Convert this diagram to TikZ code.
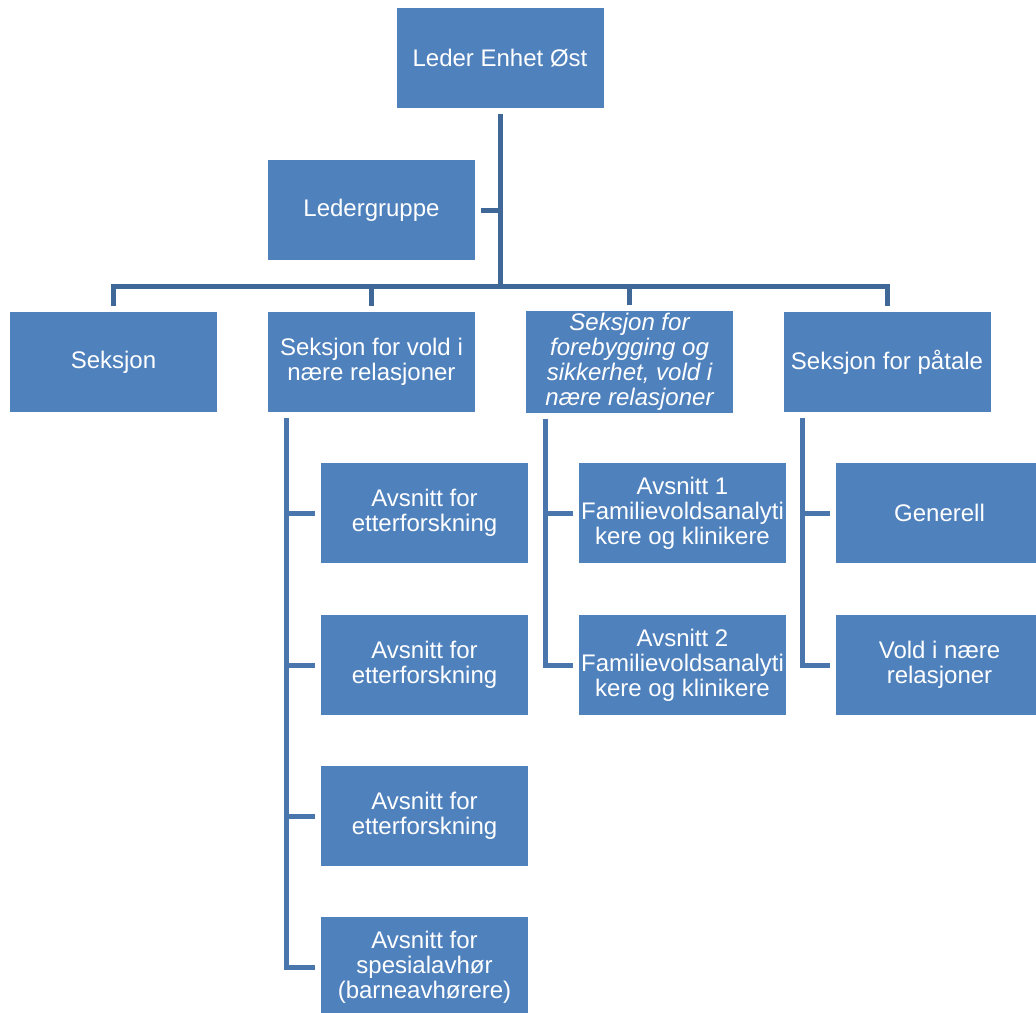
\documentclass[tikz,border=0pt]{standalone}
\usepackage{fontspec}
\setmainfont{Liberation Sans}
\definecolor{boxblue}{HTML}{4F81BD}
\definecolor{lineblue}{HTML}{3F6797}
\definecolor{sideblue}{HTML}{4A76AE}
\tikzset{box:style/.style={fill=boxblue,text=white,align=center,minimum width=103.5pt,minimum height=50pt,inner sep=1pt,outer sep=3pt,font=\fontsize{12}{12.5}\selectfont}}
\tikzset{edge:style/.style={draw=lineblue,line width=2.5pt}}
\tikzset{side:style/.style={draw=sideblue,line width=2.5pt}}
\def\bigfont{\fontsize{12}{12.5}\selectfont}

\begin{document}
\begin{tikzpicture}[x=0.5pt,y=-0.5pt]

	\useasboundingbox (0,0) rectangle (1036,1012);

	\path
		(500,58) coordinate (croot)
		(371.5,210) coordinate (cledergr)
		(500,286) coordinate (cbus)
		(113.5,362) coordinate (csek1)
		(371.5,362) coordinate (csek2)
		(629.5,362) coordinate (csek3)
		(887,362) coordinate (csek4)
		(286,0) coordinate (xvold)
		(545,0) coordinate (xfore)
		(802,0) coordinate (xpaat);

	\path (croot) node[box:style] (root) {Leder Enhet Øst};
	\path (cledergr) node[box:style] (ledergr) {Ledergruppe};

	\path (csek1) node[box:style] (sek1) {Seksjon};
	\path (csek2) node[box:style] (sek2) {Seksjon for vold i\\nære relasjoner};
	\path (csek3) node[box:style,font=\bigfont\itshape] (sek3) {Seksjon for\\forebygging og\\sikkerhet, vold i\\nære relasjoner};
	\path (csek4) node[box:style] (sek4) {Seksjon for påtale};

	\path (424.5,513) node[box:style] (vold1) {Avsnitt for\\etterforskning};
	\path (424.5,665) node[box:style] (vold2) {Avsnitt for\\etterforskning};
	\path (424.5,816) node[box:style] (vold3) {Avsnitt for\\etterforskning};
	\path (424.5,967) node[box:style] (vold4) {Avsnitt for\\spesialavhør\\(barneavhørere)};

	\path (682.5,513) node[box:style] (fore1) {Avsnitt 1\\Familievoldsanalyti\\kere og klinikere};
	\path (682.5,665) node[box:style] (fore2) {Avsnitt 2\\Familievoldsanalyti\\kere og klinikere};

	\path (939.5,513) node[box:style] (paat1) {Generell};
	\path (939.5,665) node[box:style] (paat2) {Vold i nære\\relasjoner};

	% top of the tree
	\path[edge:style] (root.south) -- (cbus);
	\path[edge:style] (ledergr.east) -- (ledergr.east -| cbus);
	\path[edge:style] (sek1.north) |- (cbus) -| (sek4.north);
	\path[edge:style] (sek2.north) -- (sek2.north |- cbus);
	\path[edge:style] (sek3.north) -- (sek3.north |- cbus);

	% side lines
	\path[side:style] (sek2.south -| xvold) |- (vold4.west);
	\foreach \n in {1,2,3}
		\path[side:style] (vold\n.west) -- (vold\n.west -| xvold);
	\path[side:style] (sek3.south -| xfore) |- (fore2.west);
	\path[side:style] (fore1.west) -- (fore1.west -| xfore);
	\path[side:style] (sek4.south -| xpaat) |- (paat2.west);
	\path[side:style] (paat1.west) -- (paat1.west -| xpaat);

\end{tikzpicture}
\end{document}
